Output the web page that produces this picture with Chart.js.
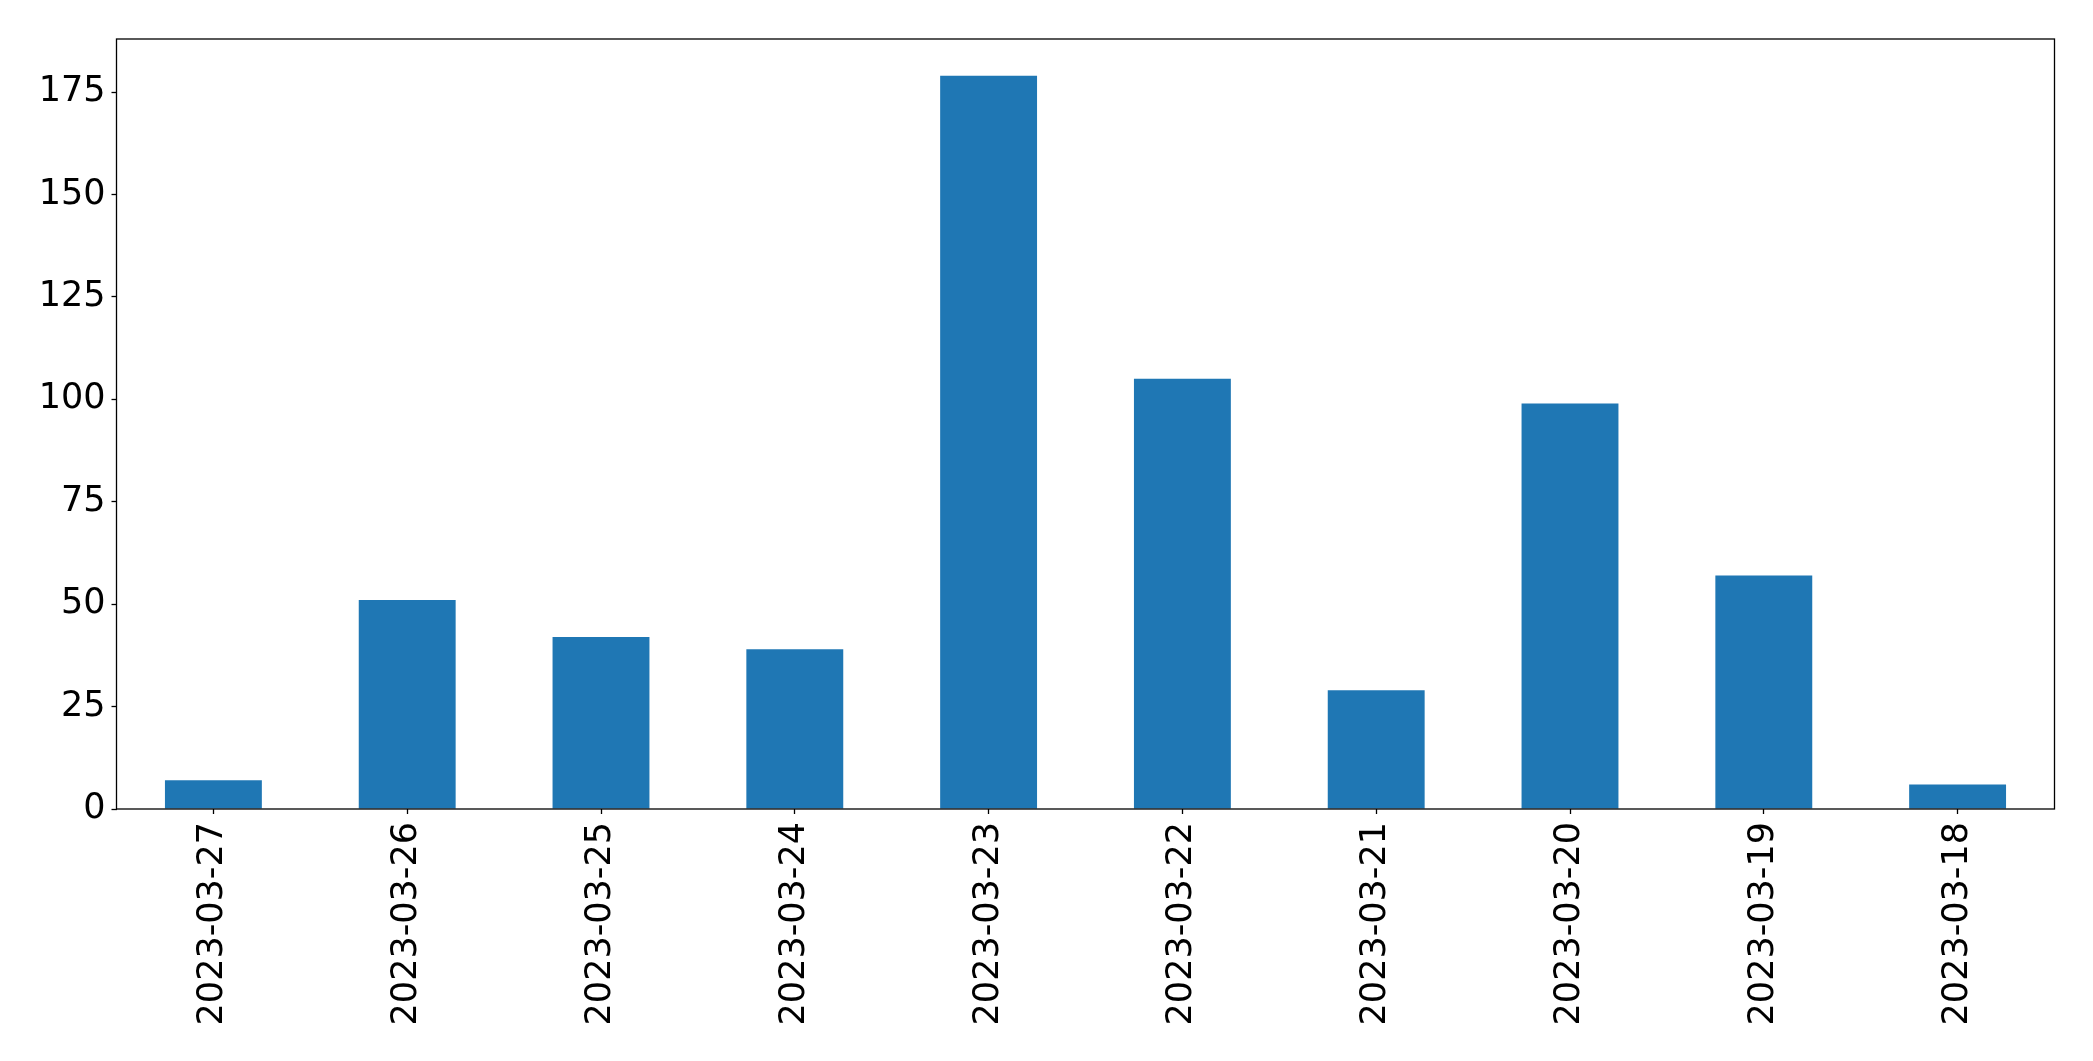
<!DOCTYPE html>
<html>
<head>
<meta charset="utf-8">
<script src="https://cdn.jsdelivr.net/npm/chart.js@4/dist/chart.umd.min.js"></script>
<style>
  html, body { margin: 0; padding: 0; background: #fff; }
  canvas { display: block; }
</style>
</head>
<body>
<canvas id="chart" width="2093" height="1061"></canvas>
<script>
// data
const dates = [
  "2023-03-27", "2023-03-26", "2023-03-25", "2023-03-24", "2023-03-23",
  "2023-03-22", "2023-03-21", "2023-03-20", "2023-03-19", "2023-03-18",
];
const counts = [7, 51, 42, 39, 179, 105, 29, 99, 57, 6];
const yTicks = [0, 25, 50, 75, 100, 125, 150, 175];

const W = 2093;
const H = 1061;
const plotLeft = 116.5;
const plotRight = 2054.5;
const plotTop = 39;
const plotBottom = 809;

// draw the full black frame around the plot area
const frame = {
  id: "frame",
  afterDraw(chart) {
    const a = chart.chartArea;
    const ctx = chart.ctx;
    ctx.save();
    ctx.strokeStyle = "#000";
    ctx.lineWidth = 1.3;
    ctx.strokeRect(a.left, a.top, a.right - a.left, a.bottom - a.top);
    ctx.restore();
  },
};

new Chart(document.getElementById("chart").getContext("2d"), {
  type: "bar",
  data: {
    labels: dates,
    datasets: [
      {
        data: counts,
        backgroundColor: "#1f77b4",
        borderWidth: 0,
        barPercentage: 0.5,
        categoryPercentage: 1.0,
      },
    ],
  },
  options: {
    responsive: false,
    animation: false,
    devicePixelRatio: 1,
    layout: {
      padding: { top: plotTop, right: W - plotRight, left: 0, bottom: 0 },
    },
    plugins: {
      legend: { display: false },
      tooltip: { enabled: false },
    },
    scales: {
      x: {
        offset: true,
        grid: {
          drawOnChartArea: false,
          drawTicks: true,
          tickLength: 5,
          tickColor: "#000",
          tickWidth: 1.3,
          offset: false,
        },
        border: { display: false },
        ticks: {
          color: "#000",
          font: { family: "DejaVu Sans", size: 35 },
          minRotation: 90,
          maxRotation: 90,
          padding: 8,
          autoSkip: false,
        },
        afterFit: (scale) => {
          scale.height = H - plotBottom;
        },
      },
      y: {
        min: 0,
        max: 187.95,
        grid: {
          drawOnChartArea: false,
          drawTicks: true,
          tickLength: 5,
          tickColor: "#000",
          tickWidth: 1.3,
        },
        border: { display: false },
        ticks: {
          color: "#000",
          font: { family: "DejaVu Sans", size: 35 },
          stepSize: 25,
          padding: 6,
        },
        afterBuildTicks: (scale) => {
          scale.ticks = yTicks.map((v) => ({ value: v }));
        },
        afterFit: (scale) => {
          scale.width = plotLeft;
        },
      },
    },
  },
  plugins: [frame],
});
</script>
</body>
</html>
